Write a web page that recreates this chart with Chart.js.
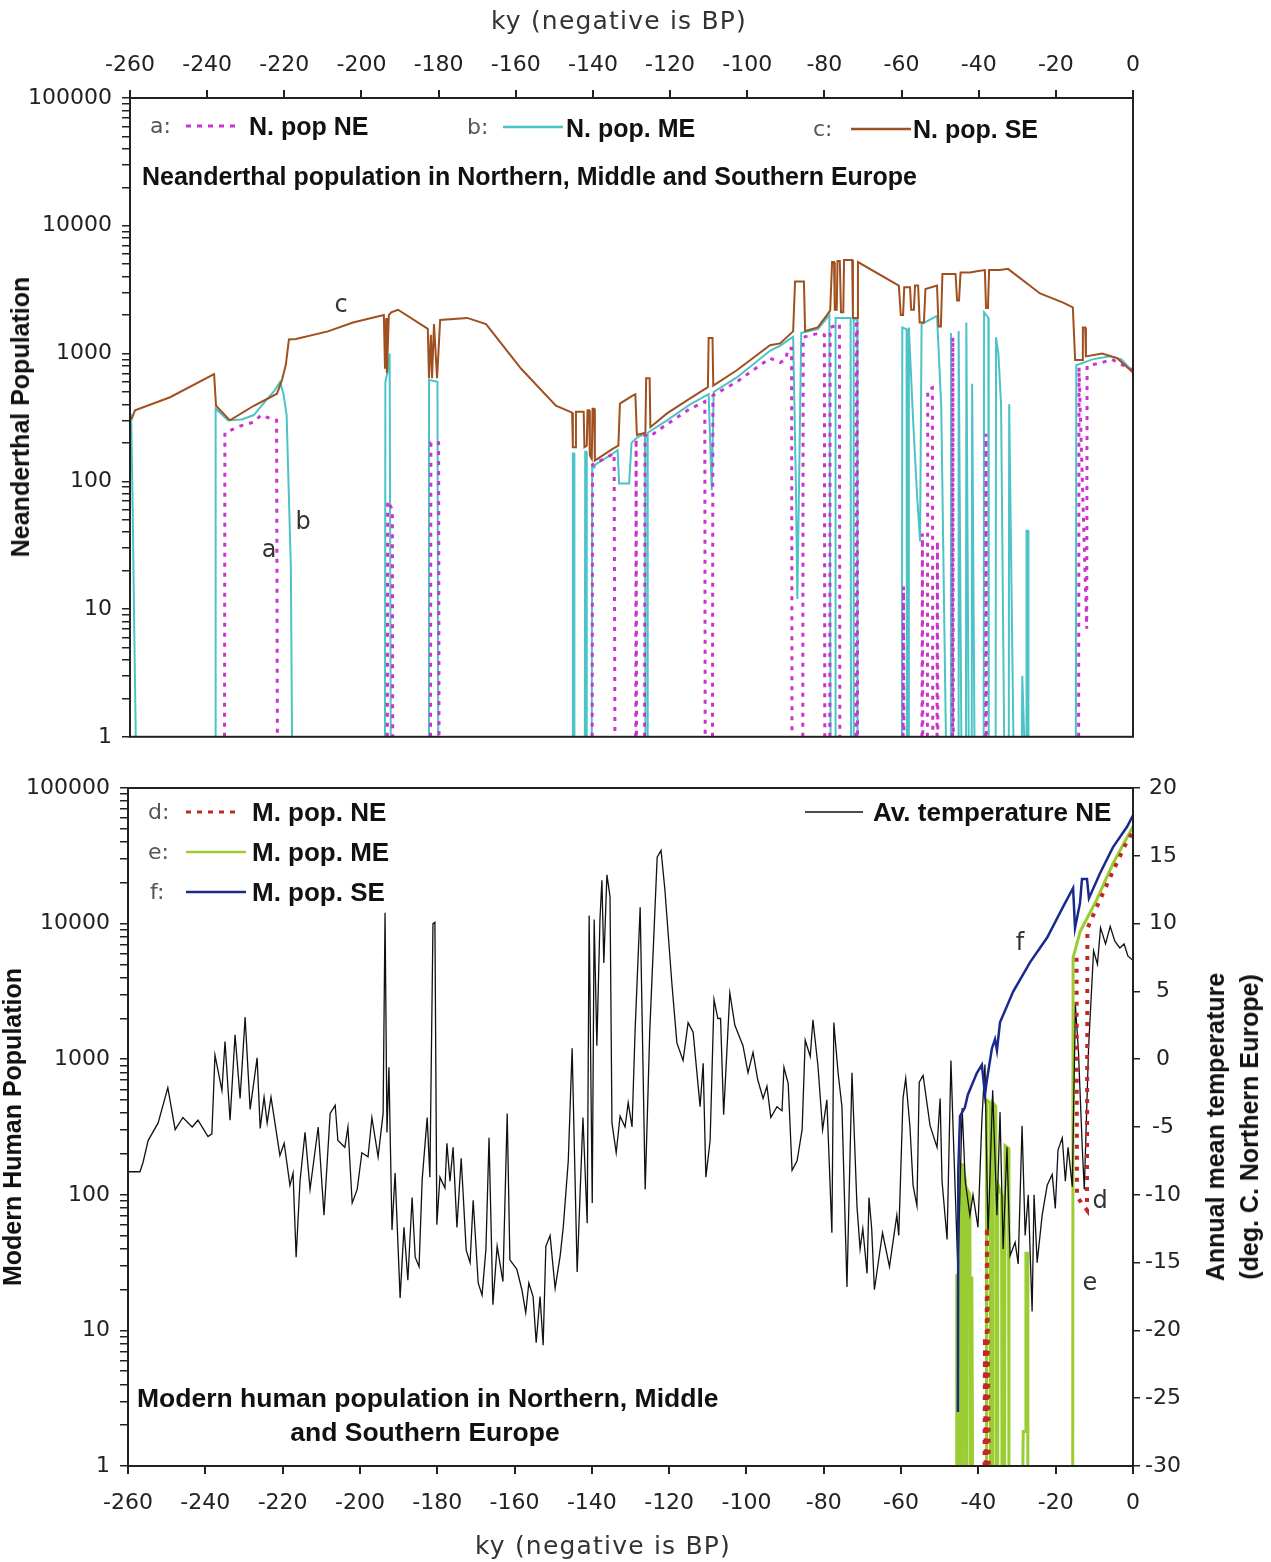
<!DOCTYPE html>
<html>
<head>
<meta charset="utf-8">
<script src="https://cdn.jsdelivr.net/npm/chart.js@4.4.1/dist/chart.umd.min.js"></script>
<style>
body { margin: 0; background: #fff; width: 1271px; height: 1562px; position: relative; overflow: hidden; }
canvas { position: absolute; left: 0; }
#topChart { top: 0; z-index: 1; }
#bottomChart { top: 750px; }
.t { position: absolute; white-space: nowrap; line-height: 1; transform: translateY(-50%); z-index: 2; }
.c { transform: translate(-50%, -50%); }
.lab { font-family: "DejaVu Sans", sans-serif; font-size: 22px; color: #555; }
.nm { font-family: "Liberation Sans", Arial, sans-serif; font-weight: bold; font-size: 25px; color: #111; }
.nm2 { font-family: "Liberation Sans", Arial, sans-serif; font-weight: bold; font-size: 26px; color: #111; }
.ttl { font-family: "Liberation Sans", Arial, sans-serif; font-weight: bold; font-size: 25px; color: #111; }
.axt { font-family: "DejaVu Sans", sans-serif; font-size: 25px; color: #333; letter-spacing: 1.2px; }
.ayt { font-family: "Liberation Sans", Arial, sans-serif; font-weight: bold; font-size: 25px; color: #111; text-align: center; line-height: 34px; }
.note { font-family: "DejaVu Sans", sans-serif; font-size: 24px; color: #333; }
</style>
</head>
<body>
<canvas id="topChart" width="1271" height="760"></canvas>
<canvas id="bottomChart" width="1271" height="812"></canvas>

<!-- axis titles -->
<div class="t c axt" style="left:619px;top:20px">ky (negative is BP)</div>
<div class="t c axt" style="left:603px;top:1545px">ky (negative is BP)</div>
<div class="t ayt" style="left:20px;top:417px;transform:translate(-50%,-50%) rotate(-90deg)">Neanderthal Population</div>
<div class="t ayt" style="left:12px;top:1127px;transform:translate(-50%,-50%) rotate(-90deg)">Modern Human Population</div>
<div class="t ayt" style="left:1232px;top:1127px;transform:translate(-50%,-50%) rotate(-90deg)">Annual mean temperature<br>(deg. C. Northern Europe)</div>

<!-- top legend -->
<div class="t lab" style="left:150px;top:126px">a:</div>
<svg class="t" style="left:186px;top:126px" width="52" height="6"><line x1="0" y1="3" x2="52" y2="3" stroke="#cc33cc" stroke-width="3" stroke-dasharray="5 6"/></svg>
<div class="t nm" style="left:249px;top:126px">N. pop NE</div>
<div class="t lab" style="left:467px;top:127px">b:</div>
<svg class="t" style="left:503px;top:127px" width="60" height="6"><line x1="0" y1="3" x2="60" y2="3" stroke="#4cc3c6" stroke-width="2.5"/></svg>
<div class="t nm" style="left:566px;top:128px">N. pop. ME</div>
<div class="t lab" style="left:813px;top:129px">c:</div>
<svg class="t" style="left:851px;top:129px" width="60" height="6"><line x1="0" y1="3" x2="60" y2="3" stroke="#a0501e" stroke-width="2.5"/></svg>
<div class="t nm" style="left:913px;top:129px">N. pop. SE</div>
<div class="t ttl" style="left:142px;top:176px">Neanderthal population in Northern, Middle and Southern Europe</div>
<div class="t c note" style="left:341px;top:304px">c</div>
<div class="t c note" style="left:303px;top:521px">b</div>
<div class="t c note" style="left:269px;top:549px">a</div>

<!-- bottom legend -->
<div class="t lab" style="left:148px;top:812px">d:</div>
<svg class="t" style="left:186px;top:812px" width="52" height="6"><line x1="0" y1="3" x2="52" y2="3" stroke="#c0282a" stroke-width="3" stroke-dasharray="5 6"/></svg>
<div class="t nm2" style="left:252px;top:812px">M. pop. NE</div>
<div class="t lab" style="left:148px;top:852px">e:</div>
<svg class="t" style="left:186px;top:852px" width="60" height="6"><line x1="0" y1="3" x2="60" y2="3" stroke="#9acd32" stroke-width="2.5"/></svg>
<div class="t nm2" style="left:252px;top:852px">M. pop. ME</div>
<div class="t lab" style="left:150px;top:892px">f:</div>
<svg class="t" style="left:186px;top:892px" width="60" height="6"><line x1="0" y1="3" x2="60" y2="3" stroke="#1a2a8c" stroke-width="2.5"/></svg>
<div class="t nm2" style="left:252px;top:892px">M. pop. SE</div>
<svg class="t" style="left:805px;top:812px" width="58" height="6"><line x1="0" y1="3" x2="58" y2="3" stroke="#111" stroke-width="1.5"/></svg>
<div class="t nm2" style="left:873px;top:812px">Av. temperature NE</div>
<div class="t ttl" style="left:137px;top:1398px;font-size:26.5px">Modern human population in Northern, Middle</div>
<div class="t c ttl" style="left:425px;top:1432px;font-size:26.5px">and Southern Europe</div>
<div class="t c note" style="left:1020px;top:942px">f</div>
<div class="t c note" style="left:1100px;top:1200px">d</div>
<div class="t c note" style="left:1090px;top:1282px">e</div>

<script>
// ---- data (ky, population) ----
const kyTicks = [-260, -240, -220, -200, -180, -160, -140, -120, -100, -80, -60, -40, -20, 0];
const popDecades = [1, 10, 100, 1000, 10000, 100000];
const tempTicks = [-30, -25, -20, -15, -10, -5, 0, 5, 10, 15, 20];

// a: Neanderthal population NE
const neanderNE = [[-260,1],[-235.5,1],[-235.4,240],[-231.5,270],[-228,290],[-226,330],[-222.4,300],[-222.0,300],[-221.8,1],
  [-193.3,1],[-193.2,70],[-192.0,60],[-191.9,1],[-182.1,1],[-182.0,200],[-180.0,200],[-179.9,1],
  [-140.2,1],[-140.1,135],[-139.0,140],[-134.5,165],[-134.3,1],[-128.9,1],[-128.8,215],[-128.7,1],[-126.6,1],[-126.5,230],
  [-125.2,225],[-120.8,280],[-114.8,370],[-111.0,420],[-110.9,1],[-109.0,1],[-108.9,470],[-102.7,600],[-94.1,920],[-91.5,850],
  [-90.0,900],[-89.4,1100],[-88.5,1100],[-88.4,1],[-85.6,1],[-85.5,1340],[-81.1,1450],[-80.0,1400],[-79.9,1],[-78.6,1],[-78.5,1600],
  [-76.1,1700],[-76.0,1],[-71.8,1],[-71.7,1700],[-71.5,1700],[-71.4,1],[-59.6,1],[-59.5,15],[-59.4,1],[-54.7,1],[-54.6,39],[-54.5,1],
  [-53.3,1],[-53.2,520],[-52.0,540],[-51.9,1],[-50.8,1],[-50.7,34],[-50.6,1],[-46.8,1],[-46.7,1340],[-46.6,1],[-38.2,1],[-38.1,235],[-38.0,1],
  [-14.1,1],[-14.0,780],[-12.0,7],[-11.9,800],[-8.0,850],[-5.5,900],[0,740]];

// b: Neanderthal population ME
const neanderME = [[-260,340],[-259.7,330],[-259.3,60],[-258.9,7],[-258.5,1],[-237.9,1],[-237.8,370],[-234.6,300],[-231.0,305],
  [-227.9,330],[-225.0,420],[-222.4,520],[-221.1,600],[-220.2,480],[-219.4,330],[-218.3,21],[-218.0,1],
  [-193.9,1],[-193.8,600],[-193.3,700],[-192.7,1000],[-192.4,1],[-182.6,1],[-182.5,620],[-180.3,600],[-180.1,1],
  [-145.3,1],[-145.2,165],[-144.9,165],[-144.8,1],[-142.1,1],[-142.0,170],[-141.7,170],[-141.6,1],[-140.3,1],[-140.2,128],
  [-139.6,128],[-139.4,135],[-134.8,165],[-133.6,175],[-133.2,96],[-130.6,96],[-130.0,200],[-128.6,220],[-126.5,235],[-126.4,1],
  [-125.9,1],[-125.8,240],[-120.8,300],[-114.8,400],[-110.0,480],[-109.2,85],[-108.7,500],[-102.7,650],[-94.1,1050],[-91.5,1150],
  [-89.6,1260],[-88.1,1350],[-87.4,100],[-87.0,12],[-86.0,1450],[-81.7,1550],[-78.7,2000],[-78.4,1],[-77.2,1],[-77.1,1900],
  [-73.2,1900],[-73.1,1],[-72.5,1],[-72.4,1850],[-71.5,1850],[-71.4,1],[-59.9,1],[-59.8,1600],[-58.7,1550],[-58.6,1],[-58.2,1],
  [-58.1,1600],[-57.0,300],[-56.0,80],[-55.2,34],[-54.8,1700],[-50.8,1970],[-49.7,380],[-48.5,1],[-47.3,1],[-47.2,1450],[-46.6,1],
  [-45.3,1],[-45.2,1500],[-44.5,1],[-43.3,1],[-43.2,1750],[-42.6,1],[-41.8,1],[-41.7,580],[-41.1,1],[-38.7,1],[-38.6,2100],
  [-37.5,1900],[-37.4,1],[-35.6,1],[-35.5,1340],[-34.9,1000],[-34.2,400],[-33.4,1],[-32.2,1],[-32.1,400],[-31.0,1],[-28.8,1],
  [-28.7,3],[-28.2,1],[-27.7,1],[-27.6,41],[-27.2,41],[-27.1,1],[-14.8,1],[-14.7,810],[-10.5,900],[-6.0,950],[-3.0,900],[0,720]];

// c: Neanderthal population SE
const neanderSE = [[-260,320],[-259.5,311],[-258.7,360],[-249.6,455],[-238.2,690],[-237.7,390],[-234.1,300],[-227.9,390],
  [-221.9,485],[-220.6,620],[-219.6,820],[-218.8,1290],[-217.0,1300],[-208.7,1490],[-202.2,1750],[-194.2,2000],[-193.9,760],
  [-193.6,1900],[-193.4,700],[-192.9,2000],[-192.3,2100],[-190.5,2200],[-182.8,1560],[-182.5,640],[-182.0,1400],[-181.7,640],
  [-181.2,1700],[-180.4,640],[-179.6,1830],[-172.6,1900],[-167.7,1700],[-158.6,760],[-149.6,390],[-145.4,345],[-145.2,185],
  [-144.6,185],[-144.4,350],[-142.4,350],[-142.2,185],[-141.6,190],[-141.4,360],[-141.0,360],[-140.8,160],[-140.3,150],
  [-140.1,370],[-139.7,370],[-139.5,145],[-134.8,180],[-133.4,190],[-133.0,405],[-129.6,470],[-129.0,480],[-128.6,230],
  [-126.4,240],[-126.2,640],[-125.3,640],[-125.1,265],[-120.8,340],[-114.8,445],[-110.2,545],[-110.0,1320],[-109.0,1320],
  [-108.8,560],[-102.7,740],[-94.1,1160],[-91.5,1200],[-88.1,1490],[-87.6,3670],[-85.3,3670],[-85.0,1500],[-81.7,1600],
  [-78.5,2170],[-78.0,5200],[-77.5,5200],[-77.3,2200],[-76.8,2200],[-76.6,5300],[-76.0,5300],[-75.7,2100],[-75.1,2100],
  [-74.9,5400],[-72.8,5400],[-72.6,1900],[-71.5,1900],[-71.3,5200],[-60.7,3400],[-60.2,2000],[-59.6,2000],[-59.3,3300],
  [-57.8,3300],[-57.5,2200],[-56.8,2200],[-56.5,3400],[-55.7,3400],[-55.3,1750],[-54.2,1750],[-53.8,3200],[-50.8,3400],
  [-50.4,1630],[-49.8,1630],[-49.4,4200],[-46.0,4200],[-45.6,2600],[-45.1,2600],[-44.7,4300],[-42.3,4300],[-40.5,4400],
  [-38.4,4500],[-38.1,2270],[-37.6,2270],[-37.3,4500],[-34.5,4500],[-32.4,4600],[-24.1,2950],[-18.1,2500],[-15.6,2300],
  [-15.0,890],[-13.2,890],[-13.0,1600],[-12.4,1600],[-12.2,950],[-8.0,1000],[-4.1,920],[0,710]];

// d: modern human population NE
const modernNE = [[-38.4,1],[-38.3,9],[-38.1,1],[-37.9,1],[-37.8,58],[-37.3,1],[-37.2,null],
  [-14.6,5600],[-14.5,97],[-11.9,77],[-11.8,9200],[-9.0,14000],[-5.0,25000],[-2.0,38000],[0,48000]];

// e: modern human population ME
const modernME = [[-45.7,1],[-45.6,26],[-45.5,1],[-45.0,1],[-44.9,180],[-44.6,150],[-44.5,1],[-44.2,1],[-44.1,170],[-43.4,130],
  [-43.3,1],[-43.0,1],[-42.9,110],[-42.2,100],[-42.1,1],[-41.8,1],[-41.7,25],[-41.5,1],[-38.0,1],[-37.9,500],[-37.0,480],[-36.9,1],
  [-36.4,1],[-36.3,480],[-35.5,450],[-35.4,1],[-35.1,1],[-35.0,120],[-34.0,100],[-33.9,1],[-33.2,1],[-33.1,230],[-32.2,220],
  [-32.1,1],[-28.5,1],[-28.4,1.8],[-27.8,1.8],[-27.7,37],[-27.3,37],[-27.2,1],[-15.6,1],[-15.5,5600],[-13.7,8700],[-9.4,15000],
  [-5.2,27700],[0,52000]];

// f: modern human population SE
const modernSE = [[-45.3,2.5],[-45.2,150],[-44.75,380],[-43.5,440],[-42.7,550],[-40.4,790],[-39.1,910],[-38.3,550],[-37.8,700],
  [-36.5,1200],[-35.7,1400],[-35.2,1160],[-34.4,1870],[-31.0,3150],[-26.6,5200],[-22.2,7900],[-18.1,13300],[-15.5,18300],
  [-15.0,9300],[-13.7,14200],[-13.2,21300],[-11.9,21300],[-11.4,15400],[-8.5,23600],[-5.2,36500],[-1.5,52000],[0,63000]];

// average temperature NE (deg C)
const tempKy = [-260.0,-256.9,-256.1,-254.8,-252.2,-249.7,-247.8,-245.8,-243.4,-241.9,
  -239.3,-238.3,-237.5,-235.7,-234.9,-233.6,-232.3,-231.0,-229.7,-228.4,
  -226.6,-225.8,-224.8,-224.0,-223.0,-220.7,-219.6,-218.1,-217.3,-216.5,
  -215.5,-214.2,-212.9,-210.8,-209.3,-207.7,-206.4,-205.7,-203.9,-203.1,
  -202.0,-200.7,-199.5,-197.9,-196.9,-195.3,-194.0,-193.5,-193.0,-192.5,
  -191.7,-190.9,-189.6,-188.6,-187.6,-186.5,-185.7,-184.7,-183.9,-182.6,
  -181.9,-181.1,-180.6,-180.1,-179.3,-178.0,-177.5,-176.7,-175.9,-174.9,
  -173.8,-172.5,-171.5,-170.7,-169.4,-168.4,-167.4,-166.6,-165.6,-164.5,
  -163.0,-161.9,-161.2,-159.4,-158.1,-157.1,-156.3,-155.2,-154.4,-153.4,
  -152.6,-151.9,-150.8,-149.5,-148.2,-147.4,-146.1,-145.1,-143.8,-143.0,
  -142.3,-141.2,-140.7,-139.9,-139.4,-138.7,-137.9,-137.4,-136.9,-136.1,
  -135.3,-134.8,-133.7,-132.7,-131.4,-130.6,-129.6,-128.8,-127.5,-126.2,
  -125.0,-123.1,-122.1,-121.1,-119.3,-118.0,-116.4,-115.1,-113.8,-112.0,
  -111.2,-110.5,-109.4,-108.4,-107.4,-106.7,-105.9,-104.3,-103.0,-100.9,
  -99.6,-98.3,-97.1,-95.7,-94.7,-93.7,-92.1,-90.8,-90.3,-89.2,
  -88.2,-86.9,-85.6,-84.8,-83.5,-82.8,-81.5,-80.3,-79.2,-77.9,
  -77.4,-76.3,-75.3,-74.0,-72.7,-71.4,-70.6,-69.9,-68.8,-68.3,
  -67.6,-66.9,-64.8,-63.0,-61.1,-60.6,-59.5,-58.8,-57.7,-56.9,
  -55.9,-55.3,-54.3,-52.5,-50.7,-49.9,-49.4,-48.1,-47.1,-46.5,
  -45.3,-44.2,-43.4,-42.2,-41.4,-40.1,-39.1,-38.3,-37.5,-36.3,
  -35.2,-34.4,-33.6,-32.6,-31.8,-30.5,-29.7,-28.7,-27.9,-27.1,
  -26.1,-25.6,-24.8,-23.5,-22.2,-20.9,-20.1,-19.4,-18.3,-17.5,
  -16.8,-15.7,-14.9,-14.1,-13.1,-12.6,-11.5,-10.2,-9.2,-8.4,
  -7.1,-5.9,-4.7,-3.4,-2.3,-1.3,0.0];
const tempVal = [-8.3,-8.3,-7.6,-6.0,-4.7,-2.1,-5.2,-4.3,-5.0,-4.5,
  -5.7,-5.5,0.3,-2.3,1.3,-4.5,1.8,-2.9,3.1,-3.7,
  0.1,-5.1,-2.8,-4.7,-2.8,-7.1,-6.2,-9.3,-8.4,-14.6,
  -9.0,-5.4,-9.6,-5.0,-11.5,-4.0,-3.4,-6.0,-6.5,-5.0,
  -10.6,-9.6,-6.9,-7.2,-4.3,-7.2,-4.0,10.8,-5.4,-0.6,
  -12.6,-8.4,-17.6,-12.4,-16.3,-10.2,-14.6,-15.3,-8.9,-4.3,
  -8.7,10.0,10.1,-12.2,-8.7,-9.5,-6.2,-9.0,-6.5,-12.4,
  -7.3,-14.1,-15.0,-10.4,-16.5,-17.4,-14.0,-5.8,-18.1,-13.8,
  -16.4,-4.0,-14.8,-15.5,-17.0,-18.7,-16.5,-17.5,-20.9,-17.5,
  -21.1,-13.8,-13.0,-16.9,-14.5,-12.4,-7.5,0.8,-15.7,-9.6,
  -4.3,-12.1,10.6,-10.6,10.3,1.0,10.3,13.2,7.1,13.6,
  12.0,-4.7,-6.9,-4.2,-5.0,-3.2,-5.0,2.2,11.2,-9.6,
  2.2,14.9,15.4,12.5,5.6,1.2,-0.1,2.7,2.0,-3.5,
  -0.3,-8.7,-6.0,4.4,3.0,3.0,-4.1,4.9,2.5,1.0,
  -1.0,0.5,-1.5,-2.9,-2.0,-4.3,-3.5,-3.8,-0.6,-1.8,
  -8.2,-7.5,-5.2,1.4,0.2,2.9,-0.5,-5.2,-3.0,-12.8,
  2.7,-1.0,-3.5,-16.8,-1.0,-10.9,-14.0,-12.5,-15.8,-10.2,
  -12.5,-17.0,-12.8,-15.3,-11.5,-13.0,-2.9,-1.4,-5.0,-9.3,
  -10.8,-1.7,-1.2,-4.9,-6.5,-2.9,-9.0,-13.3,-0.1,-5.5,
  -15.5,-3.6,-9.0,-11.5,-10.0,-12.4,-4.5,-0.4,-13.0,-2.3,
  -11.5,-3.9,-14.0,-6.5,-14.5,-13.5,-15.1,-4.9,-13.0,-10.0,
  -18.6,-10.0,-15.0,-11.5,-9.3,-8.5,-11.0,-6.7,-5.8,-9.0,
  -6.5,-9.4,4.0,0.5,-6.7,-9.6,0.8,8.0,7.0,9.7,
  8.5,9.8,8.7,8.2,8.5,7.6,7.3];

// ---- helpers ----
// pairs -> {x,y}; a run along the floor (pop 1) is left as a gap so it
// doesn't show as a line lying on the bottom axis
const toXY = arr => {
  const out = [];
  arr.forEach((p, i) => {
    const prev = arr[i - 1];
    if (prev && prev[1] === 1 && p[1] === 1) out.push({ x: (prev[0] + p[0]) / 2, y: null });
    out.push({ x: p[0], y: p[1] });
  });
  return out;
};

// log axis: labelled decades plus unlabelled 2..9 minor ticks
const popTickVals = [];
popDecades.forEach(d => {
  if (d === 100000) { popTickVals.push(d); return; }
  for (let m = 1; m <= 9; m++) popTickVals.push(d * m);
});

const tickFont = { family: 'DejaVu Sans', size: 22 };
const axisCol = '#222';

// box round the plot area
const frame = {
  id: 'frame',
  afterDraw(chart) {
    const { ctx, chartArea: a } = chart;
    ctx.save();
    ctx.strokeStyle = axisCol;
    ctx.lineWidth = 2;
    ctx.strokeRect(a.left, a.top, a.right - a.left, a.bottom - a.top);
    ctx.restore();
  }
};

function kyAxis(pos, height, pad) {
  return {
    type: 'linear', position: pos, min: -260, max: 0,
    afterBuildTicks: s => { s.ticks = kyTicks.map(v => ({ value: v })); },
    ticks: { font: tickFont, color: axisCol, padding: pad, autoSkip: false, maxRotation: 0 },
    grid: { drawOnChartArea: false, tickLength: 8, color: axisCol, lineWidth: 2 },
    border: { color: axisCol, width: 2 },
    afterFit: s => { s.height = height; }
  };
}

function popAxis(width) {
  return {
    type: 'logarithmic', position: 'left', min: 1, max: 100000,
    afterBuildTicks: s => { s.ticks = popTickVals.map(v => ({ value: v })); },
    ticks: {
      font: tickFont, color: axisCol, padding: 10, autoSkip: false,
      callback: v => popDecades.includes(v) ? String(v) : ''
    },
    grid: { drawOnChartArea: false, tickLength: 8, color: axisCol, lineWidth: 1.5 },
    border: { color: axisCol, width: 2 },
    afterFit: s => { s.width = width; }
  };
}

const common = {
  responsive: false,
  animation: false,
  spanGaps: false,
  elements: { point: { radius: 0 }, line: { tension: 0 } },
  plugins: { legend: { display: false }, tooltip: { enabled: false } }
};

// ---- Neanderthal chart ----
new Chart(document.getElementById('topChart'), {
  type: 'line',
  data: {
    datasets: [
      { label: 'N. pop. SE', data: toXY(neanderSE), borderColor: '#a0501e', borderWidth: 2, order: 0 },
      { label: 'N. pop NE', data: toXY(neanderNE), borderColor: '#cc33cc', borderWidth: 3, borderDash: [4, 6], order: 1 },
      { label: 'N. pop. ME', data: toXY(neanderME), borderColor: '#4cc3c6', borderWidth: 2, order: 2 }
    ]
  },
  options: {
    ...common,
    layout: { padding: { left: 0, right: 138, top: 0, bottom: 4 } },
    scales: {
      x: kyAxis('top', 98, 12),
      y: popAxis(130)
    }
  },
  plugins: [frame]
});

// ---- modern human chart ----
new Chart(document.getElementById('bottomChart'), {
  type: 'line',
  data: {
    datasets: [
      { label: 'M. pop. SE', data: toXY(modernSE), borderColor: '#1a2a8c', borderWidth: 2.5, order: 0 },
      { label: 'M. pop. NE', data: toXY(modernNE), borderColor: '#c0282a', borderWidth: 4, borderDash: [4, 7], order: 1 },
      { label: 'Av. temperature NE', data: tempKy.map((k, i) => ({ x: k, y: tempVal[i] })), yAxisID: 'yT',
        borderColor: '#111', borderWidth: 1.3, order: 2 },
      { label: 'M. pop. ME', data: toXY(modernME), borderColor: '#9acd32', borderWidth: 3, order: 3 }
    ]
  },
  options: {
    ...common,
    layout: { padding: { left: 0, right: 0, top: 38, bottom: 0 } },
    scales: {
      x: kyAxis('bottom', 96, 16),
      y: popAxis(128),
      yT: {
        type: 'linear', position: 'right', min: -30, max: 20,
        afterBuildTicks: s => { s.ticks = tempTicks.map(v => ({ value: v })); },
        ticks: { font: tickFont, color: axisCol, padding: 5, crossAlign: 'center', autoSkip: false },
        grid: { drawOnChartArea: false, tickLength: 7, color: axisCol, lineWidth: 1.5 },
        border: { color: axisCol, width: 2 },
        afterFit: s => { s.width = 138; }
      }
    }
  },
  plugins: [frame]
});
</script>
</body>
</html>
